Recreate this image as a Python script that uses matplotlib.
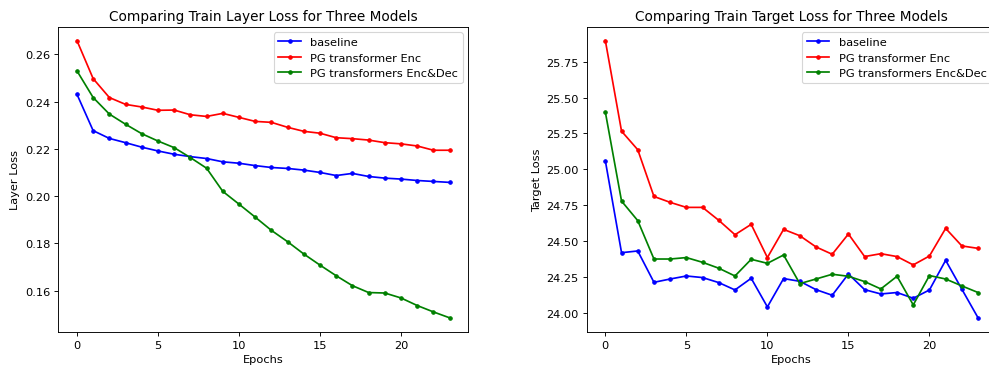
import matplotlib
matplotlib.use('Agg')
import matplotlib.pyplot as plt

epochs = list(range(24))

layer_baseline = [0.2431, 0.2277, 0.2244, 0.2226, 0.2207, 0.2191, 0.2177, 0.2167,
                  0.2159, 0.2145, 0.2139, 0.2129, 0.2121, 0.2117, 0.2110, 0.2100,
                  0.2087, 0.2096, 0.2083, 0.2076, 0.2072, 0.2066, 0.2062, 0.2058]
layer_enc = [0.2658, 0.2497, 0.2417, 0.2388, 0.2377, 0.2363, 0.2364, 0.2344,
             0.2337, 0.2350, 0.2333, 0.2316, 0.2312, 0.2291, 0.2274, 0.2266,
             0.2247, 0.2243, 0.2237, 0.2226, 0.2221, 0.2212, 0.2194, 0.2194]
layer_encdec = [0.2530, 0.2417, 0.2347, 0.2304, 0.2264, 0.2233, 0.2205, 0.2163,
                0.2118, 0.2020, 0.1966, 0.1911, 0.1855, 0.1807, 0.1755, 0.1708,
                0.1663, 0.1621, 0.1592, 0.1590, 0.1569, 0.1537, 0.1510, 0.1485]

target_baseline = [25.060, 24.421, 24.433, 24.215, 24.238, 24.259, 24.248, 24.213,
                   24.162, 24.243, 24.044, 24.241, 24.222, 24.164, 24.125, 24.273,
                   24.164, 24.134, 24.144, 24.104, 24.162, 24.368, 24.167, 23.968]
target_enc = [25.896, 25.266, 25.137, 24.812, 24.771, 24.736, 24.736, 24.646,
              24.546, 24.618, 24.387, 24.583, 24.539, 24.461, 24.410, 24.551,
              24.394, 24.414, 24.394, 24.336, 24.398, 24.590, 24.468, 24.451]
target_encdec = [25.399, 24.780, 24.644, 24.377, 24.377, 24.387, 24.354, 24.313,
                 24.259, 24.375, 24.347, 24.405, 24.206, 24.238, 24.271, 24.257,
                 24.220, 24.169, 24.257, 24.058, 24.262, 24.238, 24.190, 24.144]

labels = ['baseline', 'PG transformer Enc', 'PG transformers Enc&Dec']
colors = ['blue', 'red', 'green']

W, H = 989, 372
DPI = 82
fig = plt.figure(figsize=(W / DPI, H / DPI), dpi=DPI)
# right panel runs past the right edge, as in the cropped original
ax1 = fig.add_axes([58.3 / W, 1 - 332.7 / H, 410 / W, 305 / H])
ax2 = fig.add_axes([586.7 / W, 1 - 332.7 / H, 410 / W, 305 / H])

for ax, series, title, ylabel in [
        (ax1, [layer_baseline, layer_enc, layer_encdec],
         'Comparing Train Layer Loss for Three Models', 'Layer Loss'),
        (ax2, [target_baseline, target_enc, target_encdec],
         'Comparing Train Target Loss for Three Models', 'Target Loss')]:
    for vals, lab, c in zip(series, labels, colors):
        ax.plot(epochs, vals, marker='.', color=c, label=lab)
    ax.set_title(title)
    ax.set_xlabel('Epochs')
    ax.set_ylabel(ylabel)
    ax.legend(loc='upper right')

ax1.set_yticks([0.16, 0.18, 0.20, 0.22, 0.24, 0.26])
ax2.set_yticks([24.00, 24.25, 24.50, 24.75, 25.00, 25.25, 25.50, 25.75])

fig.savefig('out.png', dpi=DPI)
